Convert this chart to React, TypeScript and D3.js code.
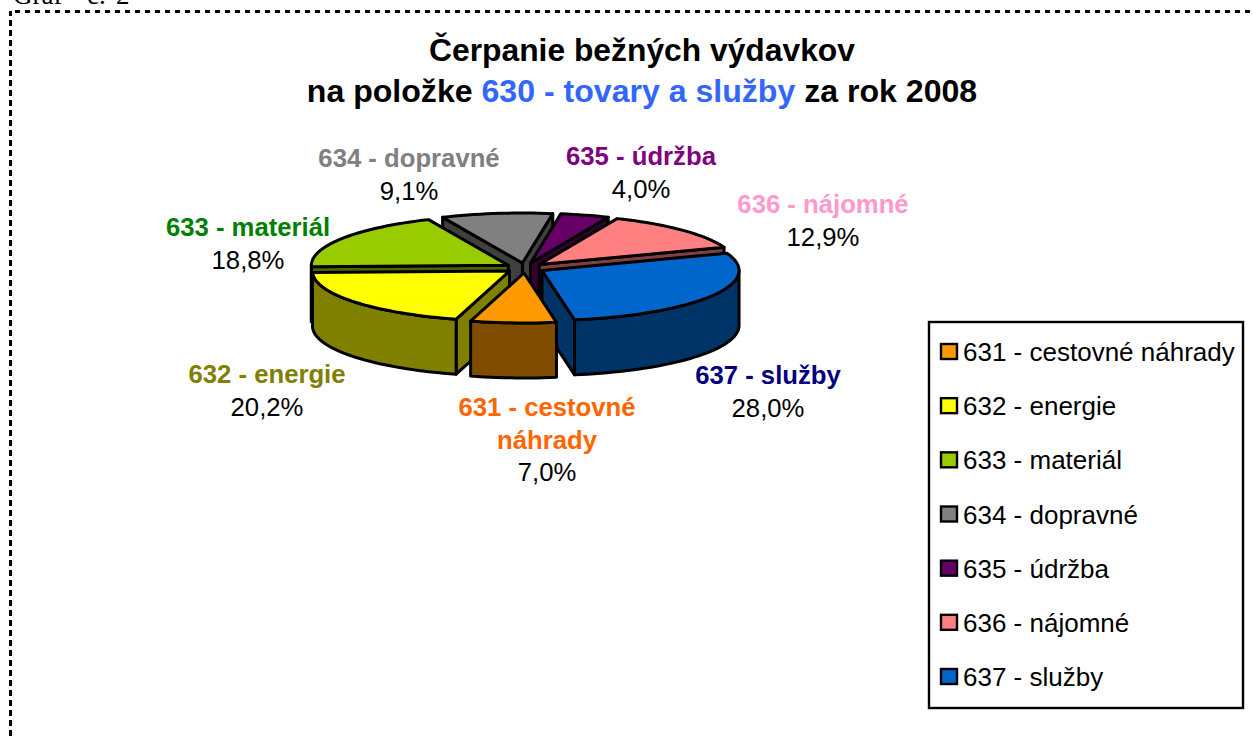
import React from "react";
import * as d3 from "d3";

const codes = ["631", "632", "633", "634", "635", "636", "637"];
const names = ["cestovné náhrady", "energie", "materiál", "dopravné", "údržba", "nájomné", "služby"];
const shares = [7.0, 20.2, 18.8, 9.1, 4.0, 12.9, 28.0];
const topColors = ["#FF9900", "#FFFF00", "#99CC00", "#808080", "#660066", "#FF8080", "#0066CC"];
const wallColors = ["#804D00", "#808000", "#4D6600", "#404040", "#330033", "#804040", "#003366"];
const labelColors = ["#FF6600", "#808000", "#008000", "#808080", "#800080", "#FF99CC", "#000080"];
const labelLines = [["631 - cestovné", "náhrady"], ["632 - energie"], ["633 - materiál"], ["634 - dopravné"], ["635 - údržba"], ["636 - nájomné"], ["637 - služby"]];
const labelAnchors: [number, number][] = [[547, 416], [267, 383], [248, 236], [409, 167], [641, 165], [823, 213], [768, 384]];
const percentLabels = ["7,0%", "20,2%", "18,8%", "9,1%", "4,0%", "12,9%", "28,0%"];

const W = 1253, H = 736;
const cx = 525, cy = 268, rx = 197, ry = 50, depth = 55, explode = 0.1;
const startDeg = 170.5;
const FONT = "'Liberation Sans', Arial, sans-serif";
const rad = Math.PI / 180;

const pie = d3.pie<number>().sort(null)
  .startAngle(startDeg * rad)
  .endAngle((startDeg + 360) * rad);
const arcs = pie(shares);

const line = d3.line<[number, number]>().curve(d3.curveLinear);

function pt(a: number, ox: number, oy: number, dy = 0): [number, number] {
  return [ox + rx * Math.sin(a), oy - ry * Math.cos(a) + dy];
}
function arcPts(a0: number, a1: number, ox: number, oy: number, dy = 0): [number, number][] {
  const n = Math.max(2, Math.ceil(Math.abs(a1 - a0) / (2 * rad)));
  return d3.range(n + 1).map(i => pt(a0 + (a1 - a0) * i / n, ox, oy, dy));
}

type Piece = { d: string; fill: string };
function slicePieces(i: number): Piece[] {
  const { startAngle: a0, endAngle: a1 } = arcs[i];
  const mid = (a0 + a1) / 2;
  const ox = cx + explode * rx * Math.sin(mid);
  const oy = cy - explode * ry * Math.cos(mid);
  const wall = wallColors[i];
  const out: Piece[] = [];
  const quad = (p: [number, number], q: [number, number]) =>
    line([p, q, [q[0], q[1] + depth], [p[0], p[1] + depth]])! + "Z";
  // radial cut walls, only those that face the viewer
  if (Math.sin(a0) < 0) out.push({ d: quad([ox, oy], pt(a0, ox, oy)), fill: wall });
  if (Math.sin(a1) > 0) out.push({ d: quad([ox, oy], pt(a1, ox, oy)), fill: wall });
  // outer wall: only the front half of the rim, in each turn of the circle
  for (const k of [0, 1]) {
    const lo = Math.max(a0, (90 + 360 * k) * rad);
    const hi = Math.min(a1, (270 + 360 * k) * rad);
    if (hi > lo) {
      const top = arcPts(lo, hi, ox, oy);
      const bottom = arcPts(hi, lo, ox, oy, depth);
      out.push({ d: line([...top, ...bottom])! + "Z", fill: wall });
    }
  }
  // top face
  out.push({ d: line([[ox, oy], ...arcPts(a0, a1, ox, oy)])! + "Z", fill: topColors[i] });
  return out;
}

const drawOrder = d3.range(arcs.length).sort((p, q) => {
  const front = (i: number) => -Math.cos((arcs[i].startAngle + arcs[i].endAngle) / 2);
  return front(p) - front(q);
});

const legendY = d3.scalePoint<string>().domain(codes).range([352, 677]);

export default function App() {
  return (
    <svg width={W} height={H} viewBox={`0 0 ${W} ${H}`} style={{ position: "absolute", left: 0, top: 0, display: "block", background: "#fff" }}>
      <text y={4} fontFamily="'Liberation Serif', 'Times New Roman', serif" fontSize={27} fill="#000">
        <tspan x={13}>Graf</tspan><tspan x={87}>č.</tspan><tspan x={116}>2</tspan>
      </text>
      <path d={`M10.5 ${H}V11`} fill="none" stroke="#000" strokeWidth={3} strokeDasharray="6 4" />
      <path d={`M15 11.5H${W}`} fill="none" stroke="#000" strokeWidth={3} strokeDasharray="5 5" />

      <text x={642} y={61} textAnchor="middle" fontFamily={FONT} fontSize={31.8} fontWeight="bold">Čerpanie bežných výdavkov</text>
      <text x={642} y={102} textAnchor="middle" fontFamily={FONT} fontSize={32.1} fontWeight="bold">
        na položke <tspan fill="#3366FF">630 - tovary a služby</tspan> za rok 2008
      </text>

      {drawOrder.map(i => (
        <g key={codes[i]}>
          {slicePieces(i).map((p, j) => (
            <path key={j} d={p.d} fill={p.fill} stroke="#000" strokeWidth={3} strokeLinejoin="round" />
          ))}
        </g>
      ))}

      {codes.map((c, i) => {
        const [x, y] = labelAnchors[i];
        const ls = labelLines[i];
        return (
          <g key={c} textAnchor="middle" fontFamily={FONT} fontSize={25.7}>
            {ls.map((t, j) => (
              <text key={j} x={x} y={y + j * 33} fontWeight="bold" fill={labelColors[i]}>{t}</text>
            ))}
            <text x={x} y={y + ls.length * 32.5} fill="#000">{percentLabels[i]}</text>
          </g>
        );
      })}

      <rect x={929} y={322} width={314} height={386} fill="#fff" stroke="#000" strokeWidth={2.4} />
      {codes.map((c, i) => {
        const y = legendY(c)!;
        return (
          <g key={c}>
            <rect x={941} y={y - 8} width={16} height={15} fill={topColors[i]} stroke="#000" strokeWidth={2.4} />
            <text x={963} y={y + 9} fontFamily={FONT} fontSize={26} fill="#000">{`${c} - ${names[i]}`}</text>
          </g>
        );
      })}
    </svg>
  );
}
